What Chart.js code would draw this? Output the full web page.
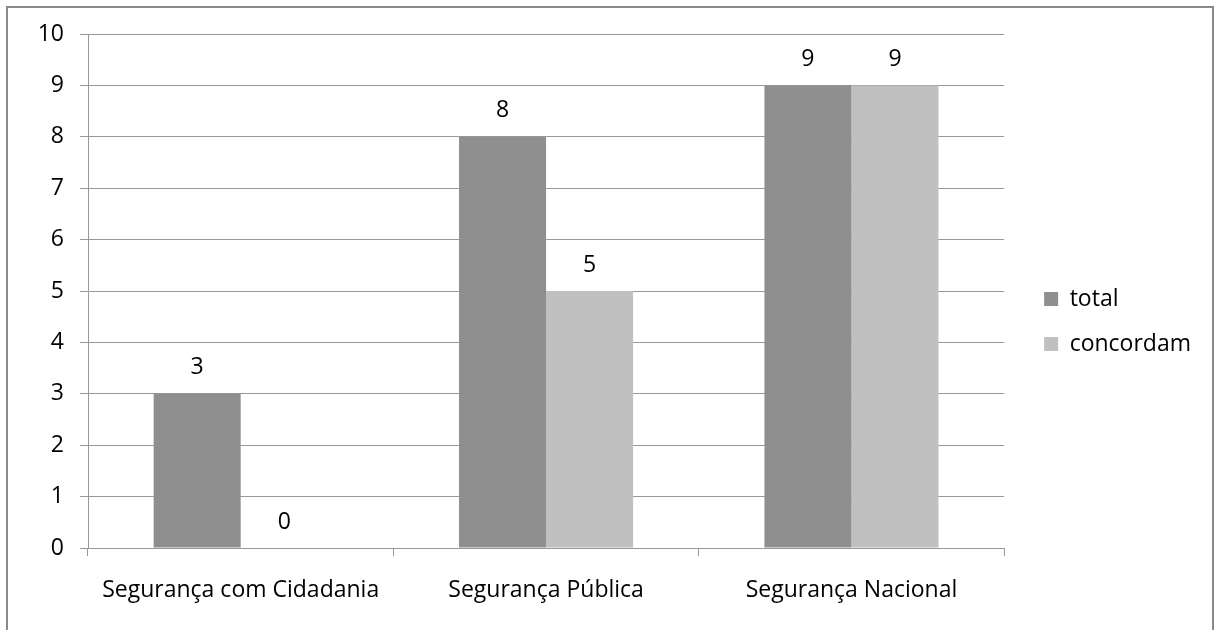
<!DOCTYPE html>
<html>
<head>
<meta charset="utf-8">
<script src="https://cdn.jsdelivr.net/npm/chart.js@4.4.0/dist/chart.umd.min.js"></script>
<style>
    html, body { margin: 0; padding: 0; background: #fff; }
    body { width: 1218px; height: 630px; overflow: hidden; position: relative; }
    .frame {
        position: absolute; left: 6px; top: 6px; width: 1208px; height: 640px;
        border: 2px solid #8a8a8a; box-sizing: border-box;
    }
    #grafico { position: absolute; left: 0; top: 0; }
</style>
</head>
<body>
<div class="frame"></div>
<canvas id="grafico" width="1218" height="630"></canvas>
<script>
const categorias = ['Segurança com Cidadania', 'Segurança Pública', 'Segurança Nacional'];
const total = [3, 8, 9];
const concordam = [0, 5, 9];
const yTicks = [0, 1, 2, 3, 4, 5, 6, 7, 8, 9, 10];

const fonte = "'Open Sans', sans-serif";
const tamFonte = 23;
const corGrade = '#989898';

// escreve o valor em cima de cada barra
const rotulosBarras = {
    id: 'rotulosBarras',
    afterDatasetsDraw(chart) {
        const ctx = chart.ctx;
        ctx.save();
        ctx.font = tamFonte + 'px ' + fonte;
        ctx.fillStyle = '#000';
        ctx.textAlign = 'center';
        ctx.textBaseline = 'middle';
        chart.data.datasets.forEach((ds, i) => {
            chart.getDatasetMeta(i).data.forEach((bar, j) => {
                ctx.fillText(ds.data[j], bar.x, bar.y - 26);
            });
        });
        ctx.restore();
    }
};

var ctx = document.getElementById('grafico').getContext('2d');

var grafico = new Chart(ctx, {
    type: 'bar',
    data: {
        labels: categorias,
        datasets: [{
            label: 'total',
            data: total,
            backgroundColor: '#8f8f8f',
            categoryPercentage: 0.57,
            barPercentage: 1
        }, {
            label: 'concordam',
            data: concordam,
            backgroundColor: '#c0c0c0',
            categoryPercentage: 0.57,
            barPercentage: 1
        }]
    },
    options: {
        responsive: false,
        animation: false,
        layout: { padding: { left: 0, top: 34, right: 17, bottom: 21 } },
        plugins: {
            legend: {
                position: 'right',
                labels: {
                    font: { family: fonte, size: tamFonte },
                    color: '#000',
                    boxWidth: 14,
                    boxHeight: 14,
                    padding: 22
                }
            },
            tooltip: { enabled: false }
        },
        scales: {
            x: {
                grid: { drawOnChartArea: false, drawTicks: true, tickLength: 8, color: corGrade, offset: true },
                border: { color: corGrade },
                ticks: { font: { family: fonte, size: tamFonte }, color: '#000', padding: 21, maxRotation: 0 },
                afterFit(scale) { scale.height = 61; }
            },
            y: {
                min: 0,
                max: 10,
                afterBuildTicks(scale) { scale.ticks = yTicks.map(v => ({ value: v })); },
                grid: { color: corGrade, tickLength: 8 },
                border: { color: corGrade },
                ticks: { font: { family: fonte, size: tamFonte }, color: '#000', padding: 16 },
                afterFit(scale) { scale.width = 88; }
            },
            // eixo vazio, só para afastar a legenda do gráfico
            espaco: {
                type: 'linear',
                position: 'right',
                grid: { display: false },
                border: { display: false },
                ticks: { display: false },
                afterFit(scale) { scale.width = 18; }
            }
        }
    },
    plugins: [rotulosBarras]
});
</script>
</body>
</html>
